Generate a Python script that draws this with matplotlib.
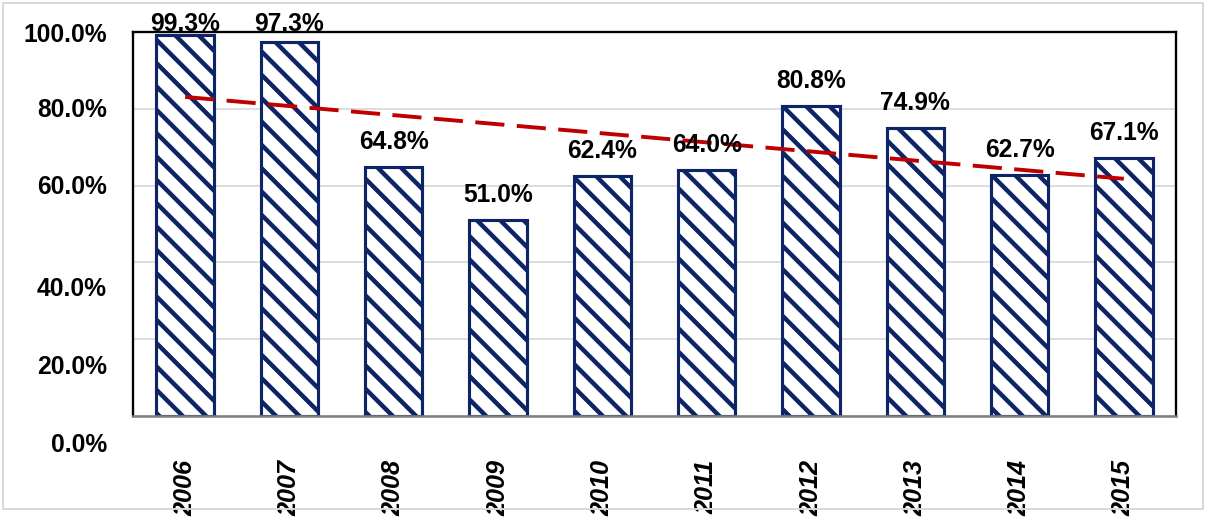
import numpy as np
import matplotlib
matplotlib.use("Agg")
import matplotlib.pyplot as plt
import matplotlib.transforms as mtransforms
from matplotlib.patches import Rectangle

# data
years = ["2006", "2007", "2008", "2009", "2010", "2011", "2012", "2013", "2014", "2015"]
rates = [99.3, 97.3, 64.8, 51.0, 62.4, 64.0, 80.8, 74.9, 62.7, 67.1]
y_ticks = [0, 20, 40, 60, 80, 100]
y_labels = ["0.0%", "20.0%", "40.0%", "60.0%", "80.0%", "100.0%"]
# the source image draws the lower tick labels a bit below their gridlines
y_label_shift = [-29, -28, -27, -1, -1, -3]  # pixels

navy = "#0d2466"
red = "#c00000"
DPI = 140

plt.rcParams["font.family"] = ["Liberation Sans", "DejaVu Sans"]
plt.rcParams["hatch.linewidth"] = 2.3
plt.rcParams["hatch.color"] = navy

fig = plt.figure(figsize=(1205 / DPI, 523 / DPI), dpi=DPI)
ax = fig.add_axes([133 / 1205, 1 - 416 / 523, 1043 / 1205, 384 / 523])

# light outer frame of the chart object
fig.patches.append(Rectangle((3 / 1205, 1 - 509 / 523), 1200 / 1205, 506 / 523,
                             transform=fig.transFigure, fill=False,
                             edgecolor="#d9d9d9", linewidth=1.0))

x = np.arange(len(years))
ax.bar(x, rates, width=0.55, color="white", edgecolor=navy, linewidth=1.6,
       hatch="\\\\", zorder=2)

# linear trend line
coef = np.polyfit(x, rates, 1)
ax.plot(x, np.polyval(coef, x), color=red, linewidth=2.0, dashes=(7.5, 3.2), zorder=3)

# value labels, kept inside the chart top like the original
for xi, v in zip(x, rates):
    ax.text(xi, min(v + 4.7, 100.3), f"{v:.1f}%", ha="center", va="baseline",
            fontsize=12.7, fontweight="bold", clip_on=False, zorder=4)

ax.set_xlim(-0.5, len(years) - 0.5)
ax.set_ylim(0, 100)
ax.set_yticks(y_ticks)
ax.set_yticklabels([])
ax.tick_params(axis="y", length=0)
ax.yaxis.grid(True, color="#d9d9d9", linewidth=0.9, zorder=0)
ax.set_axisbelow(True)

blend = mtransforms.blended_transform_factory(ax.transAxes, ax.transData)
for t, lab, dy in zip(y_ticks, y_labels, y_label_shift):
    off = mtransforms.ScaledTranslation(0, dy / DPI, fig.dpi_scale_trans)
    ax.text(-0.025, t, lab, transform=blend + off, ha="right", va="center",
            fontsize=12.7, fontweight="bold")

ax.set_xticks(x)
ax.set_xticklabels(years, rotation=90, fontsize=13, fontweight="bold",
                   fontstyle="italic")
ax.tick_params(axis="x", length=0, pad=22.5)

for side in ["left", "top", "right"]:
    ax.spines[side].set_color("black")
    ax.spines[side].set_linewidth(1.2)
ax.spines["bottom"].set_color("#7f7f7f")
ax.spines["bottom"].set_linewidth(1.3)

fig.savefig("out.png", dpi=DPI)
